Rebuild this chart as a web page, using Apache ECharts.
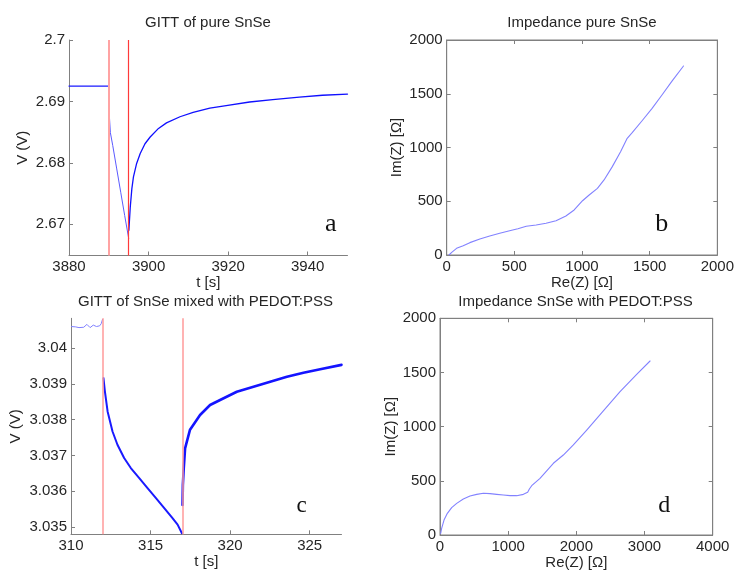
<!DOCTYPE html>
<html><head><meta charset="utf-8">
<script src="https://cdn.jsdelivr.net/npm/echarts@6/dist/echarts.min.js"></script>
<style>html,body{margin:0;padding:0;background:#fff}#c{width:737px;height:571px}</style>
</head><body><div id="c"></div>
<script>
// ---------- Panel a: GITT of pure SnSe ----------
const aBeforeT = [3880, 3882, 3884, 3886, 3888, 3890];
const aBeforeV = [2.6925, 2.6925, 2.6925, 2.6925, 2.6925, 2.6925];
const aPulseT = [3890.0, 3890.4, 3891, 3892, 3893, 3894, 3895];
const aPulseV = [2.6892, 2.6849, 2.6828, 2.6790, 2.6752, 2.6714, 2.6677];
const aRelaxT = [3895.05, 3895.4, 3895.8, 3896.2, 3897.0, 3897.9, 3899.1, 3900.4, 3902.5, 3904.5, 3907.9, 3911.2, 3915.4, 3919.5, 3925.4, 3931.2, 3937.9, 3943.7, 3950];
const aRelaxV = [2.6690, 2.6728, 2.6758, 2.6777, 2.6799, 2.6815, 2.6831, 2.6842, 2.6856, 2.6865, 2.6875, 2.6882, 2.6889, 2.6893, 2.6899, 2.6903, 2.6907, 2.6910, 2.6912];
const aMarkers = [3890, 3895];
const aXTicks = [3880, 3900, 3920, 3940];
const aYTicks = [2.67, 2.68, 2.69, 2.7];

// ---------- Panel b: Impedance pure SnSe ----------
const bRe = [17, 37, 73, 122, 171, 245, 318, 392, 465, 526, 588, 661, 734, 808, 881, 942, 1004, 1053, 1114, 1163, 1224, 1285, 1334, 1371, 1444, 1518, 1591, 1665, 1750];
const bIm = [0, 25, 62, 87, 115, 149, 177, 202, 226, 245, 267, 279, 295, 319, 363, 419, 505, 558, 620, 698, 822, 961, 1085, 1138, 1249, 1364, 1488, 1618, 1758];
const bXTicks = [0, 500, 1000, 1500, 2000];
const bYTicks = [0, 500, 1000, 1500, 2000];

// ---------- Panel c: GITT of SnSe mixed with PEDOT:PSS ----------
const cBeforeT = [310.03, 310.3, 310.5, 310.8, 311.0, 311.2, 311.4, 311.6, 311.8, 311.9, 311.98];
const cBeforeV = [3.04060, 3.04059, 3.04057, 3.04058, 3.04066, 3.04057, 3.04064, 3.04060, 3.04062, 3.04068, 3.04080];
const cPulseT = [312.04, 312.13, 312.30, 312.61, 312.92, 313.34, 313.76, 314.29, 314.81, 315.34, 315.86, 316.38, 316.70, 316.97];
const cPulseV = [3.03916, 3.03879, 3.03823, 3.03767, 3.03730, 3.03693, 3.03665, 3.03637, 3.03609, 3.03581, 3.03553, 3.03525, 3.03507, 3.03483];
const cRelaxT = [317.01, 317.03, 317.08, 317.17, 317.48, 318.11, 318.74, 319.37, 320.42, 321.47, 322.52, 323.57, 324.61, 325.66, 327.0];
const cRelaxV = [3.03562, 3.03618, 3.03660, 3.03720, 3.03772, 3.03813, 3.03841, 3.03855, 3.03878, 3.03892, 3.03906, 3.03920, 3.03931, 3.03941, 3.03953];
const cMarkers = [312, 317];
const cXTicks = [310, 315, 320, 325];
const cYTicks = [3.035, 3.036, 3.037, 3.038, 3.039, 3.04];

// ---------- Panel d: Impedance SnSe with PEDOT:PSS ----------
const dRe = [10, 24, 59, 108, 171, 245, 342, 440, 538, 636, 734, 831, 929, 1027, 1125, 1223, 1286, 1311, 1345, 1467, 1663, 1809, 1956, 2152, 2396, 2641, 2885, 3081];
const dIm = [15, 62, 138, 200, 252, 292, 332, 360, 375, 385, 382, 375, 369, 363, 363, 375, 394, 425, 455, 523, 662, 738, 831, 969, 1145, 1323, 1483, 1606];
const dXTicks = [0, 1000, 2000, 3000, 4000];
const dYTicks = [0, 500, 1000, 1500, 2000];

const titles = ['GITT of pure SnSe', 'Impedance pure SnSe', 'GITT of SnSe mixed with PEDOT:PSS', 'Impedance SnSe with PEDOT:PSS'];
const panelLetters = ['a', 'b', 'c', 'd'];

// ---------- helpers ----------
const FONT = '"Liberation Sans", Arial, sans-serif';
const AX = '#808080', TXT = '#262626';
const pairs = (xs, ys) => xs.map((x, i) => [x, ys[i]]);
const fmt = v => String(Math.round(v * 100000) / 100000);

function axis(kind, grid, min, max, ticks, name, gap, opts) {
  opts = opts || {};
  const mirror = !!opts.mirror;
  return {
    type: 'value', gridIndex: grid, min: min, max: max,
    position: opts.position,
    name: mirror ? '' : name, nameLocation: 'middle', nameGap: gap,
    nameTextStyle: { fontSize: 15, color: TXT, fontFamily: FONT },
    axisLine: { show: true, onZero: false, lineStyle: { color: AX, width: 1 } },
    axisTick: { show: true, inside: true, length: 4, customValues: ticks, lineStyle: { color: AX, width: 1 } },
    axisLabel: { show: !mirror, customValues: ticks, formatter: fmt, fontSize: 15, color: TXT, fontFamily: FONT, margin: 4 },
    splitLine: { show: false },
    silent: true
  };
}

function lineSeries(xi, data, color, width, extra) {
  return Object.assign({
    type: 'line', xAxisIndex: xi, yAxisIndex: xi, data: data,
    showSymbol: false, symbol: 'none', animation: false, clip: true,
    lineStyle: { color: color, width: width, join: 'round', cap: 'round' }, z: 2
  }, extra || {});
}

function markers(vals, styles) {
  return {
    symbol: ['none', 'none'], silent: true, animation: false,
    label: { show: false },
    data: vals.map((v, i) => ({ xAxis: v, lineStyle: Object.assign({ type: 'solid' }, styles[i]) }))
  };
}

const grids = [
  { left: 69, top: 40, width: 278.5, height: 215.5 },
  { left: 446.7, top: 40, width: 272.3, height: 215, show: true, borderColor: AX, borderWidth: 1, backgroundColor: 'transparent' },
  { left: 71, top: 318.3, width: 270.5, height: 216 },
  { left: 440, top: 318.3, width: 272.7, height: 216.7, show: true, borderColor: AX, borderWidth: 1, backgroundColor: 'transparent' }
];

const option = {
  backgroundColor: '#ffffff',
  animation: false,
  title: [
    { text: titles[0], left: 208, top: 15.5 },
    { text: titles[1], left: 582, top: 15.5 },
    { text: titles[2], left: 205.5, top: 294 },
    { text: titles[3], left: 575.5, top: 294 }
  ].map(t => Object.assign(t, { textAlign: 'center', padding: 0, textStyle: { fontSize: 15, fontWeight: 'normal', color: TXT, fontFamily: FONT } })),
  grid: grids,
  xAxis: [
    axis('x', 0, 3880, 3950, aXTicks, 't [s]', 18),
    axis('x', 1, 0, 2000, bXTicks, 'Re(Z) [Ω]', 18),
    axis('x', 2, 310, 327, cXTicks, 't [s]', 20),
    axis('x', 3, 0, 4000, dXTicks, 'Re(Z) [Ω]', 20),
    axis('x', 1, 0, 2000, bXTicks, '', 0, { mirror: true, position: 'top' }),
    axis('x', 3, 0, 4000, dXTicks, '', 0, { mirror: true, position: 'top' })
  ],
  yAxis: [
    axis('y', 0, 2.6649, 2.7, aYTicks, 'V (V)', 39),
    axis('y', 1, 0, 2000, bYTicks, 'Im(Z) [Ω]', 42),
    axis('y', 2, 3.0348, 3.04083, cYTicks, 'V (V)', 48),
    axis('y', 3, 0, 2000, dYTicks, 'Im(Z) [Ω]', 41.5),
    axis('y', 1, 0, 2000, bYTicks, '', 0, { mirror: true, position: 'right' }),
    axis('y', 3, 0, 2000, dYTicks, '', 0, { mirror: true, position: 'right' })
  ],
  series: [
    lineSeries(0, pairs(aBeforeT, aBeforeV), '#1a1aff', 1.3),
    lineSeries(0, pairs(aPulseT, aPulseV), '#5a5aff', 1),
    lineSeries(0, pairs(aRelaxT, aRelaxV), '#1010ff', 1.3, {
      markLine: markers(aMarkers, [{ color: '#ffa3a3', width: 2 }, { color: '#ff3a3a', width: 1.2 }])
    }),
    lineSeries(1, pairs(bRe, bIm), '#8282ff', 1.1),
    lineSeries(2, pairs(cBeforeT, cBeforeV), '#8080ff', 1),
    lineSeries(2, pairs(cPulseT, cPulseV), '#1a1aff', 2),
    lineSeries(2, pairs(cRelaxT, cRelaxV), '#1414ff', 2.6, {
      markLine: markers(cMarkers, [{ color: '#ff9a9a', width: 1.5 }, { color: '#ff9a9a', width: 1.5 }])
    }),
    lineSeries(3, pairs(dRe, dIm), '#8282ff', 1.1)
  ],
  graphic: [
    { x: 330.7, y: 224.5, size: 26 },
    { x: 661.7, y: 224.5, size: 26 },
    { x: 301.7, y: 505.5, size: 23 },
    { x: 664.3, y: 505.5, size: 24 }
  ].map((p, i) => ({
    type: 'text', x: p.x, y: p.y, silent: true,
    style: { text: panelLetters[i], font: p.size + 'px "Liberation Serif", "Times New Roman", serif', fill: '#111', align: 'center', verticalAlign: 'middle' }
  }))
};

const chart = echarts.init(document.getElementById('c'), null, { renderer: 'canvas' });
chart.setOption(option);
</script>
</body></html>
